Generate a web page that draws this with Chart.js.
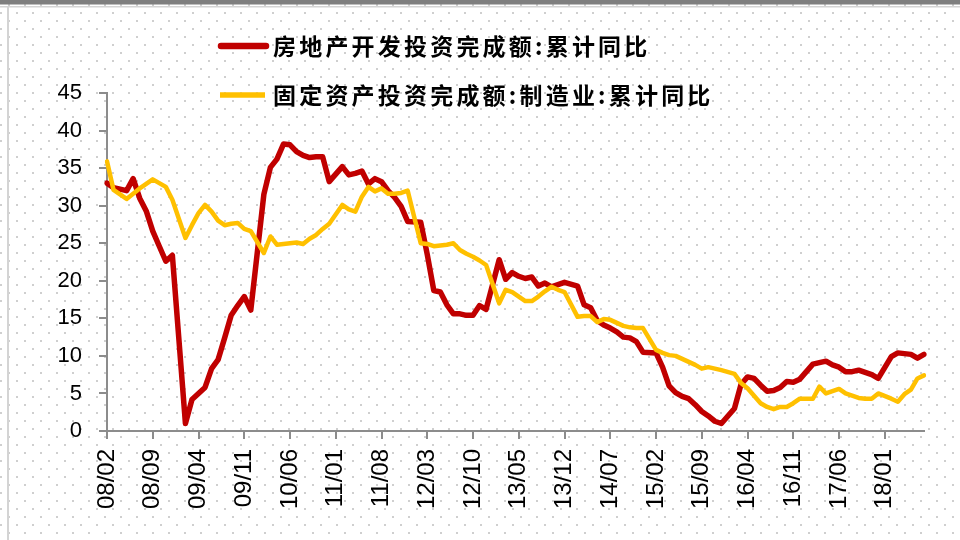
<html>
<head>
<meta charset="utf-8">
<title>房地产开发投资 vs 制造业投资</title>
<script src="https://cdn.jsdelivr.net/npm/chart.js@4.4.1/dist/chart.umd.min.js"></script>
<style>
  html, body { margin: 0; padding: 0; background: #fff; }
  canvas { display: block; }
</style>
</head>
<body>
<canvas id="chart" width="960" height="540"></canvas>
<script>
// monthly categories, 2008/02 .. 2018/07
const startYear = 2008;
const startMonth = 2;
const monthCount = 126;

// labels that get a tick on the x axis
const tickLabels = ['08/02', '08/09', '09/04', '09/11', '10/06', '11/01', '11/08', '12/03', '12/10',
  '13/05', '13/12', '14/07', '15/02', '15/09', '16/04', '16/11', '17/06', '18/01'];

const seriesNames = ['房地产开发投资完成额:累计同比', '固定资产投资完成额:制造业:累计同比'];

// cumulative yoy %, January not published (null)
const realEstate = [
  33.0, 32.4, 32.2, 32.0, 33.6, 31.0, 29.3, 26.6, 24.6, 22.6, 23.4,          // 2008 Feb-Dec
  null, 1.0, 4.2, 5.0, 5.8, 8.3, 9.5, 12.4, 15.4, 16.7, 17.9, 16.1,          // 2009
  null, 31.5, 35.1, 36.2, 38.2, 38.1, 37.2, 36.7, 36.4, 36.5, 36.5, 33.2,    // 2010
  null, 35.2, 34.1, 34.3, 34.6, 32.9, 33.6, 33.2, 32.0, 31.1, 29.9, 27.9,    // 2011
  null, 27.8, 23.5, 18.7, 18.5, 16.8, 15.6, 15.6, 15.4, 15.4, 16.7, 16.2,    // 2012
  null, 22.8, 20.2, 21.1, 20.6, 20.3, 20.5, 19.3, 19.7, 19.2, 19.5, 19.8,    // 2013
  null, 19.3, 16.8, 16.4, 14.7, 14.1, 13.7, 13.2, 12.5, 12.4, 11.9, 10.5,    // 2014
  null, 10.4, 8.5, 6.0, 5.1, 4.6, 4.3, 3.5, 2.6, 2.0, 1.3, 1.0,              // 2015
  null, 3.0, 6.2, 7.2, 7.0, 6.1, 5.3, 5.4, 5.8, 6.6, 6.5, 6.9,               // 2016
  null, 8.9, 9.1, 9.3, 8.8, 8.5, 7.9, 7.9, 8.1, 7.8, 7.5, 7.0,               // 2017
  null, 9.9, 10.4, 10.3, 10.2, 9.7, 10.2                                     // 2018 Jan-Jul
];

const manufacturing = [
  35.9, 32.1, 31.5, 30.9, 31.6, 32.3, 32.9, 33.5, 33.0, 32.5, 30.8,          // 2008 Feb-Dec
  null, 25.7, 27.4, 29.0, 30.1, 29.2, 28.0, 27.4, 27.6, 27.7, 26.9, 26.6,    // 2009
  null, 23.7, 25.9, 24.8, 24.9, 25.0, 25.1, 24.9, 25.6, 26.1, 26.9, 27.6,    // 2010
  null, 30.1, 29.5, 29.2, 31.2, 32.5, 31.9, 32.3, 31.6, 31.6, 31.7, 32.0,    // 2011
  null, 25.0, 24.9, 24.6, 24.7, 24.8, 25.0, 24.1, 23.6, 23.2, 22.7, 22.1,    // 2012
  null, 17.0, 18.8, 18.5, 17.9, 17.3, 17.3, 17.9, 18.6, 19.2, 18.8, 18.5,    // 2013
  null, 15.2, 15.3, 15.3, 14.5, 14.9, 14.8, 14.4, 14.0, 13.8, 13.7, 13.7,    // 2014
  null, 10.8, 10.4, 10.1, 10.0, 9.6, 9.2, 8.8, 8.3, 8.5, 8.3, 8.1,           // 2015
  null, 7.6, 6.4, 5.7, 4.7, 3.7, 3.2, 2.9, 3.2, 3.2, 3.7, 4.3,               // 2016
  null, 4.3, 5.9, 5.0, 5.3, 5.6, 5.0, 4.7, 4.4, 4.3, 4.3, 5.0,               // 2017
  null, 4.3, 3.9, 4.9, 5.5, 7.0, 7.4                                         // 2018 Jan-Jul
];

const months = [];
for (let k = 0; k < monthCount; k++) {
  const m = startMonth - 1 + k;
  const yy = (startYear + Math.floor(m / 12)) % 100;
  const mm = m % 12 + 1;
  months.push(String(yy).padStart(2, '0') + '/' + String(mm).padStart(2, '0'));
}

const axisGray = '#8c8c8c';

// dotted page background + frame lines
const backdrop = {
  id: 'backdrop',
  beforeDraw(chart) {
    const ctx = chart.ctx;
    const tile = document.createElement('canvas');
    tile.width = 16; tile.height = 16;
    const t = tile.getContext('2d');
    t.fillStyle = '#cfcfcf';
    t.fillRect(8, 0, 2, 2);
    t.fillRect(0, 8, 2, 2);
    ctx.save();
    ctx.fillStyle = '#fff';
    ctx.fillRect(0, 0, chart.width, chart.height);
    ctx.translate(0, 4);
    ctx.fillStyle = ctx.createPattern(tile, 'repeat');
    ctx.fillRect(0, -4, chart.width, chart.height + 4);
    ctx.restore();

    ctx.save();
    ctx.fillStyle = '#7f7f7f';
    ctx.fillRect(0, 0, chart.width, 4.5);
    ctx.fillStyle = '#d4d4d4';
    ctx.fillRect(0, 6, chart.width, 1.5);
    ctx.fillRect(7, 6, 2, chart.height);
    ctx.restore();
  }
};

// two-row legend in the top middle
const rowLegend = {
  id: 'rowLegend',
  afterDraw(chart) {
    const ctx = chart.ctx;
    const rows = [
      { y: 46, x1: 221, x2: 266, width: 6.5, cap: 'round' },
      { y: 95, x1: 220, x2: 265, width: 5.5, cap: 'butt' }
    ];
    ctx.save();
    chart.data.datasets.forEach((ds, i) => {
      const r = rows[i];
      ctx.beginPath();
      ctx.strokeStyle = ds.borderColor;
      ctx.lineWidth = r.width;
      ctx.lineCap = r.cap;
      ctx.moveTo(r.x1, r.y);
      ctx.lineTo(r.x2, r.y);
      ctx.stroke();
      ctx.font = 'bold 23px "Noto Sans CJK SC"';
      ctx.letterSpacing = '3.2px';
      ctx.fillStyle = '#000';
      ctx.textBaseline = 'middle';
      ctx.textAlign = 'left';
      ctx.fillText(ds.label, 273, r.y);
    });
    ctx.restore();
  }
};

new Chart(document.getElementById('chart'), {
  type: 'line',
  data: {
    labels: months,
    datasets: [
      {
        label: seriesNames[0],
        data: realEstate,
        borderColor: '#c00000',
        borderWidth: 5.5,
        order: 1
      },
      {
        label: seriesNames[1],
        data: manufacturing,
        borderColor: '#ffc000',
        borderWidth: 4.5,
        order: 0
      }
    ]
  },
  options: {
    responsive: false,
    animation: false,
    devicePixelRatio: 1,
    spanGaps: true,
    elements: {
      point: { radius: 0, hoverRadius: 0 },
      line: { tension: 0, borderJoinStyle: 'round', borderCapStyle: 'round' }
    },
    layout: { padding: { left: 0, right: 36, top: 93, bottom: 0 } },
    plugins: {
      legend: { display: false },
      tooltip: { enabled: false }
    },
    scales: {
      x: {
        offset: false,
        afterFit: (scale) => { scale.height = 109; },
        grid: {
          drawOnChartArea: false,
          drawTicks: true,
          tickLength: 8,
          color: axisGray,
          lineWidth: 2
        },
        border: { display: true, color: axisGray, width: 2 },
        ticks: {
          autoSkip: false,
          minRotation: 90,
          maxRotation: 90,
          padding: 10,
          color: '#000',
          font: { family: 'Liberation Sans', size: 24 },
          callback: (val, idx) => tickLabels.includes(months[idx]) ? months[idx] : null
        }
      },
      y: {
        min: 0,
        max: 45,
        afterFit: (scale) => { scale.width = 107; },
        grid: {
          drawOnChartArea: false,
          drawTicks: true,
          tickLength: 8,
          color: axisGray,
          lineWidth: 2
        },
        border: { display: true, color: axisGray, width: 2 },
        ticks: {
          stepSize: 5,
          padding: 17,
          color: '#000',
          font: { family: 'Liberation Sans', size: 22 }
        }
      }
    }
  },
  plugins: [backdrop, rowLegend]
});
</script>
</body>
</html>
